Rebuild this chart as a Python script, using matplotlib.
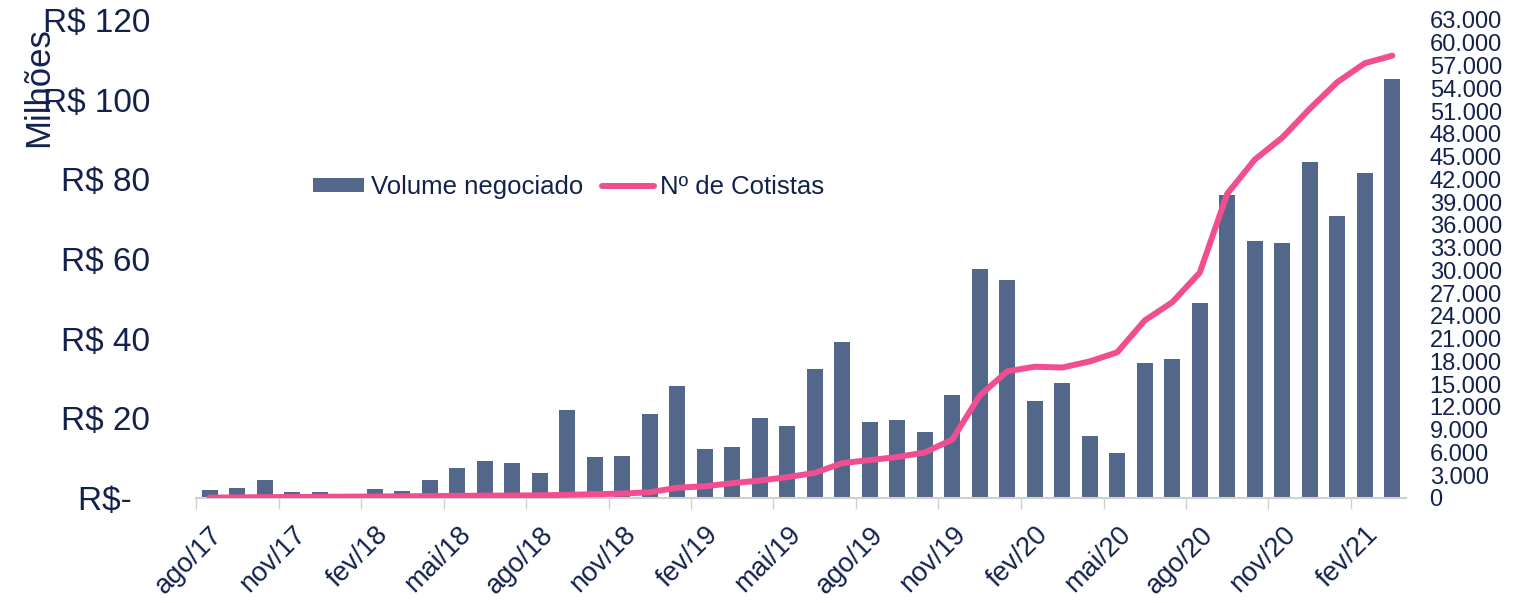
import numpy as np
import matplotlib.pyplot as plt
from matplotlib.ticker import FixedLocator

# monthly data, ago/17 .. mar/21
months = [
    "ago/17", "set/17", "out/17", "nov/17", "dez/17", "jan/18", "fev/18", "mar/18",
    "abr/18", "mai/18", "jun/18", "jul/18", "ago/18", "set/18", "out/18", "nov/18",
    "dez/18", "jan/19", "fev/19", "mar/19", "abr/19", "mai/19", "jun/19", "jul/19",
    "ago/19", "set/19", "out/19", "nov/19", "dez/19", "jan/20", "fev/20", "mar/20",
    "abr/20", "mai/20", "jun/20", "jul/20", "ago/20", "set/20", "out/20", "nov/20",
    "dez/20", "jan/21", "fev/21", "mar/21",
]

# volume negociado (R$ milhoes)
volume = [
    2.1, 2.6, 4.4, 1.5, 1.6, 0.3, 2.3, 1.8,
    4.6, 7.6, 9.3, 8.7, 6.2, 22.1, 10.4, 10.6,
    21.0, 28.0, 12.2, 12.9, 20.1, 18.0, 32.5, 39.1,
    19.1, 19.6, 16.5, 25.9, 57.5, 54.8, 24.3, 28.8,
    15.5, 11.4, 33.8, 35.0, 49.0, 76.1, 64.4, 63.9,
    84.4, 70.8, 81.7, 105.1,
]

# numero de cotistas
cotistas = [
    50, 80, 110, 140, 160, 180, 200, 220,
    250, 280, 310, 330, 350, 420, 500, 580,
    760, 1350, 1550, 1950, 2300, 2750, 3300, 4600,
    5000, 5400, 6000, 7700, 13500, 16700, 17300, 17200,
    18000, 19200, 23400, 25800, 29700, 40100, 44600, 47500,
    51300, 54800, 57300, 58300,
]

navy = "#13214D"
bar_color = "#52678A"
line_color = "#F04E91"

plt.rcParams["font.family"] = ["Liberation Sans", "DejaVu Sans"]

fig = plt.figure(figsize=(15.38, 6.03), dpi=100)
ax = fig.add_axes([196 / 1538, 105 / 603, 1210 / 1538, 478 / 603])
ax2 = ax.twinx()

x = np.arange(len(months))
ax.bar(x, volume, width=0.58, color=bar_color, label="Volume negociado", zorder=2)
ax2.plot(x, cotistas, color=line_color, lw=4.3, solid_capstyle="round",
         label="Nº de Cotistas", zorder=3)

ax.set_xlim(-0.5, len(months) - 0.5)
ax.set_ylim(0, 120)
ax2.set_ylim(0, 63000)

# left axis
ax.set_yticks(np.arange(0, 121, 20))
ax.set_yticklabels(["R$-  "] + [f"R$ {v}" for v in range(20, 121, 20)])
ax.tick_params(axis="y", length=0, pad=33, labelsize=24, labelcolor=navy)

# right axis
ax2.set_yticks(np.arange(0, 63001, 3000))
ax2.set_yticklabels(["0"] + [f"{v // 1000}.000" for v in range(3000, 63001, 3000)])
ax2.tick_params(axis="y", length=0, pad=17, labelsize=17, labelcolor=navy)

# x axis: labels every 3 months, ticks between categories
ax.set_xticks(x[::3])
ax.set_xticklabels(months[::3], rotation=45, ha="right", rotation_mode="anchor")
ax.tick_params(axis="x", length=0, pad=17, labelsize=19.5, labelcolor=navy)
ax.xaxis.set_minor_locator(FixedLocator(np.arange(-0.5, len(months), 3)))
ax.tick_params(axis="x", which="minor", length=8, width=1, color="#D0D0D0")

for a in (ax, ax2):
    for s in ("top", "right", "left"):
        a.spines[s].set_visible(False)
ax2.spines["bottom"].set_visible(False)
ax.spines["bottom"].set_color("#D0D0D0")
ax.spines["bottom"].set_linewidth(1.5)

fig.text(39 / 1538, 1 - 87 / 603, "Milhões", rotation=90, ha="center", va="center",
         fontsize=25, color=navy)

h1, l1 = ax.get_legend_handles_labels()
h2, l2 = ax2.get_legend_handles_labels()
fig.legend(h1 + h2, l1 + l2, loc="center left", bbox_to_anchor=(313 / 1538, 1 - 187 / 603),
           ncol=2, frameon=False, borderpad=0, borderaxespad=0,
           handlelength=2.0, handleheight=0.5, handletextpad=0.25,
           columnspacing=0.75, fontsize=18.5, labelcolor=navy)

fig.savefig("out.png", dpi=100)
